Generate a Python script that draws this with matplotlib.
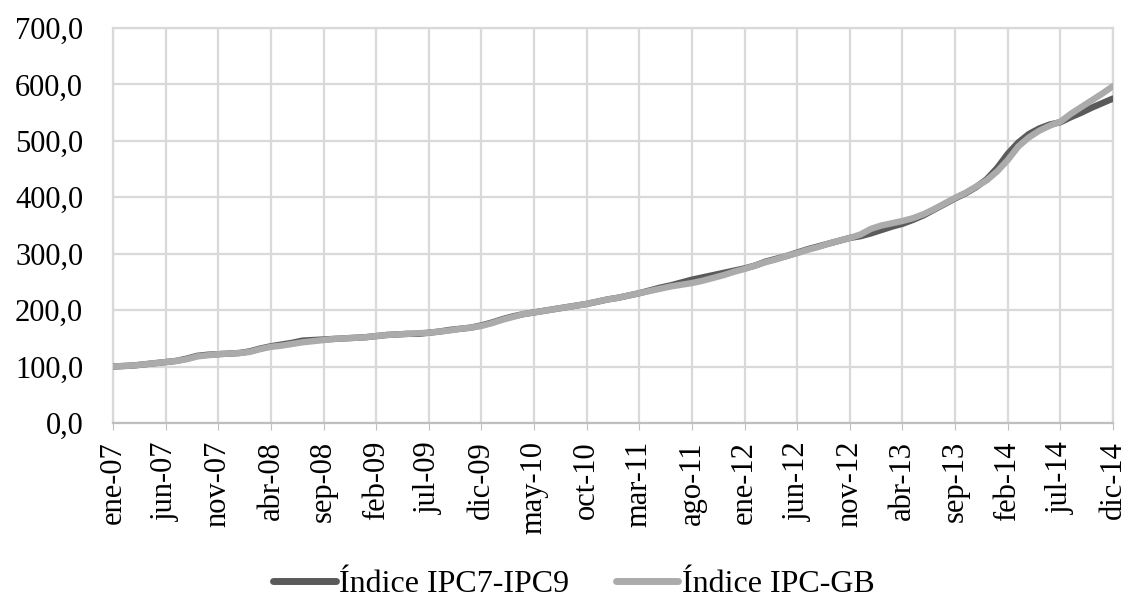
import matplotlib
matplotlib.use("Agg")
import matplotlib.pyplot as plt
import numpy as np

months_es = ["ene", "feb", "mar", "abr", "may", "jun", "jul", "ago", "sep", "oct", "nov", "dic"]
categories = [f"{m}-{y:02d}" for y in range(7, 15) for m in months_es]

ipc7_ipc9 = [100, 101, 102, 104, 106, 108, 110, 114, 119, 121,
             122, 123, 124, 127, 132, 136, 139, 142, 146, 147,
             148, 149, 150, 151, 152, 154, 156, 157, 158, 158,
             160, 162, 165, 167, 169, 173, 178, 184, 189, 193,
             196, 199, 202, 205, 208, 211, 215, 219, 222, 226,
             230, 235, 240, 244, 249, 254, 258, 262, 266, 270,
             274, 279, 286, 291, 296, 302, 308, 313, 318, 323,
             328, 331, 336, 342, 348, 353, 360, 368, 378, 388,
             398, 407, 418, 432, 452, 477, 497, 512, 522, 529,
             533, 542, 550, 559, 567, 575]

ipc_gb = [100, 101, 102, 104, 106, 108, 110, 113, 118, 120,
          122, 123, 124, 126, 131, 135, 137, 140, 143, 145,
          147, 149, 150, 151, 152, 154, 156, 157, 158, 159,
          160, 162, 164, 167, 169, 172, 177, 183, 188, 193,
          196, 199, 202, 205, 208, 211, 215, 219, 222, 226,
          230, 234, 238, 242, 245, 248, 252, 257, 262, 268,
          273, 279, 285, 290, 296, 301, 307, 312, 318, 323,
          328, 334, 344, 350, 354, 358, 363, 370, 379, 389,
          399, 408, 419, 430, 446, 466, 490, 506, 518, 527,
          534, 548, 560, 572, 584, 597]

yticks = [0, 100, 200, 300, 400, 500, 600, 700]
ytick_labels = ["0,0", "100,0", "200,0", "300,0", "400,0", "500,0", "600,0", "700,0"]

plt.rcParams['font.family'] = ['Liberation Serif', 'DejaVu Serif']

W, H = 1130, 598
fig = plt.figure(figsize=(W / 100, H / 100), dpi=100)
ax = fig.add_axes([113 / W, 1 - 423 / H, 1000 / W, 395 / H])

x = np.arange(len(categories))
ax.plot(x, ipc7_ipc9, color="#5A5A5A", lw=4.6, solid_capstyle="round", label="Índice IPC7-IPC9", zorder=3)
ax.plot(x, ipc_gb, color="#ABABAB", lw=4.6, solid_capstyle="round", label="Índice IPC-GB", zorder=4)

ax.set_xlim(0, len(categories) - 1)
ax.set_ylim(0, 700)
tick_idx = list(range(0, len(categories), 5))
ax.set_xticks(tick_idx)
ax.set_xticklabels([categories[i] for i in tick_idx], rotation=90, fontsize=22)
ax.set_yticks(yticks)
ax.set_yticklabels(ytick_labels, fontsize=22)
ax.tick_params(axis="y", length=0, pad=21.5)
ax.tick_params(axis="x", length=5, color="#BFBFBF", pad=8)

ax.grid(True, color="#D9D9D9", lw=1.6)
ax.set_axisbelow(True)
for s in ["top", "right", "left"]:
    ax.spines[s].set_color("#D9D9D9")
    ax.spines[s].set_linewidth(1.6)
ax.spines["bottom"].set_color("#BFBFBF")
ax.spines["bottom"].set_linewidth(1.6)

leg = fig.legend(loc="center", bbox_to_anchor=(574 / W, 1 - 584 / H), ncol=2, frameon=False,
                 fontsize=23, handlelength=1.95, handletextpad=0.12, columnspacing=1.45,
                 borderpad=0.0)
for line in leg.get_lines():
    line.set_linewidth(5.0)

fig.savefig("out.png", dpi=100)
